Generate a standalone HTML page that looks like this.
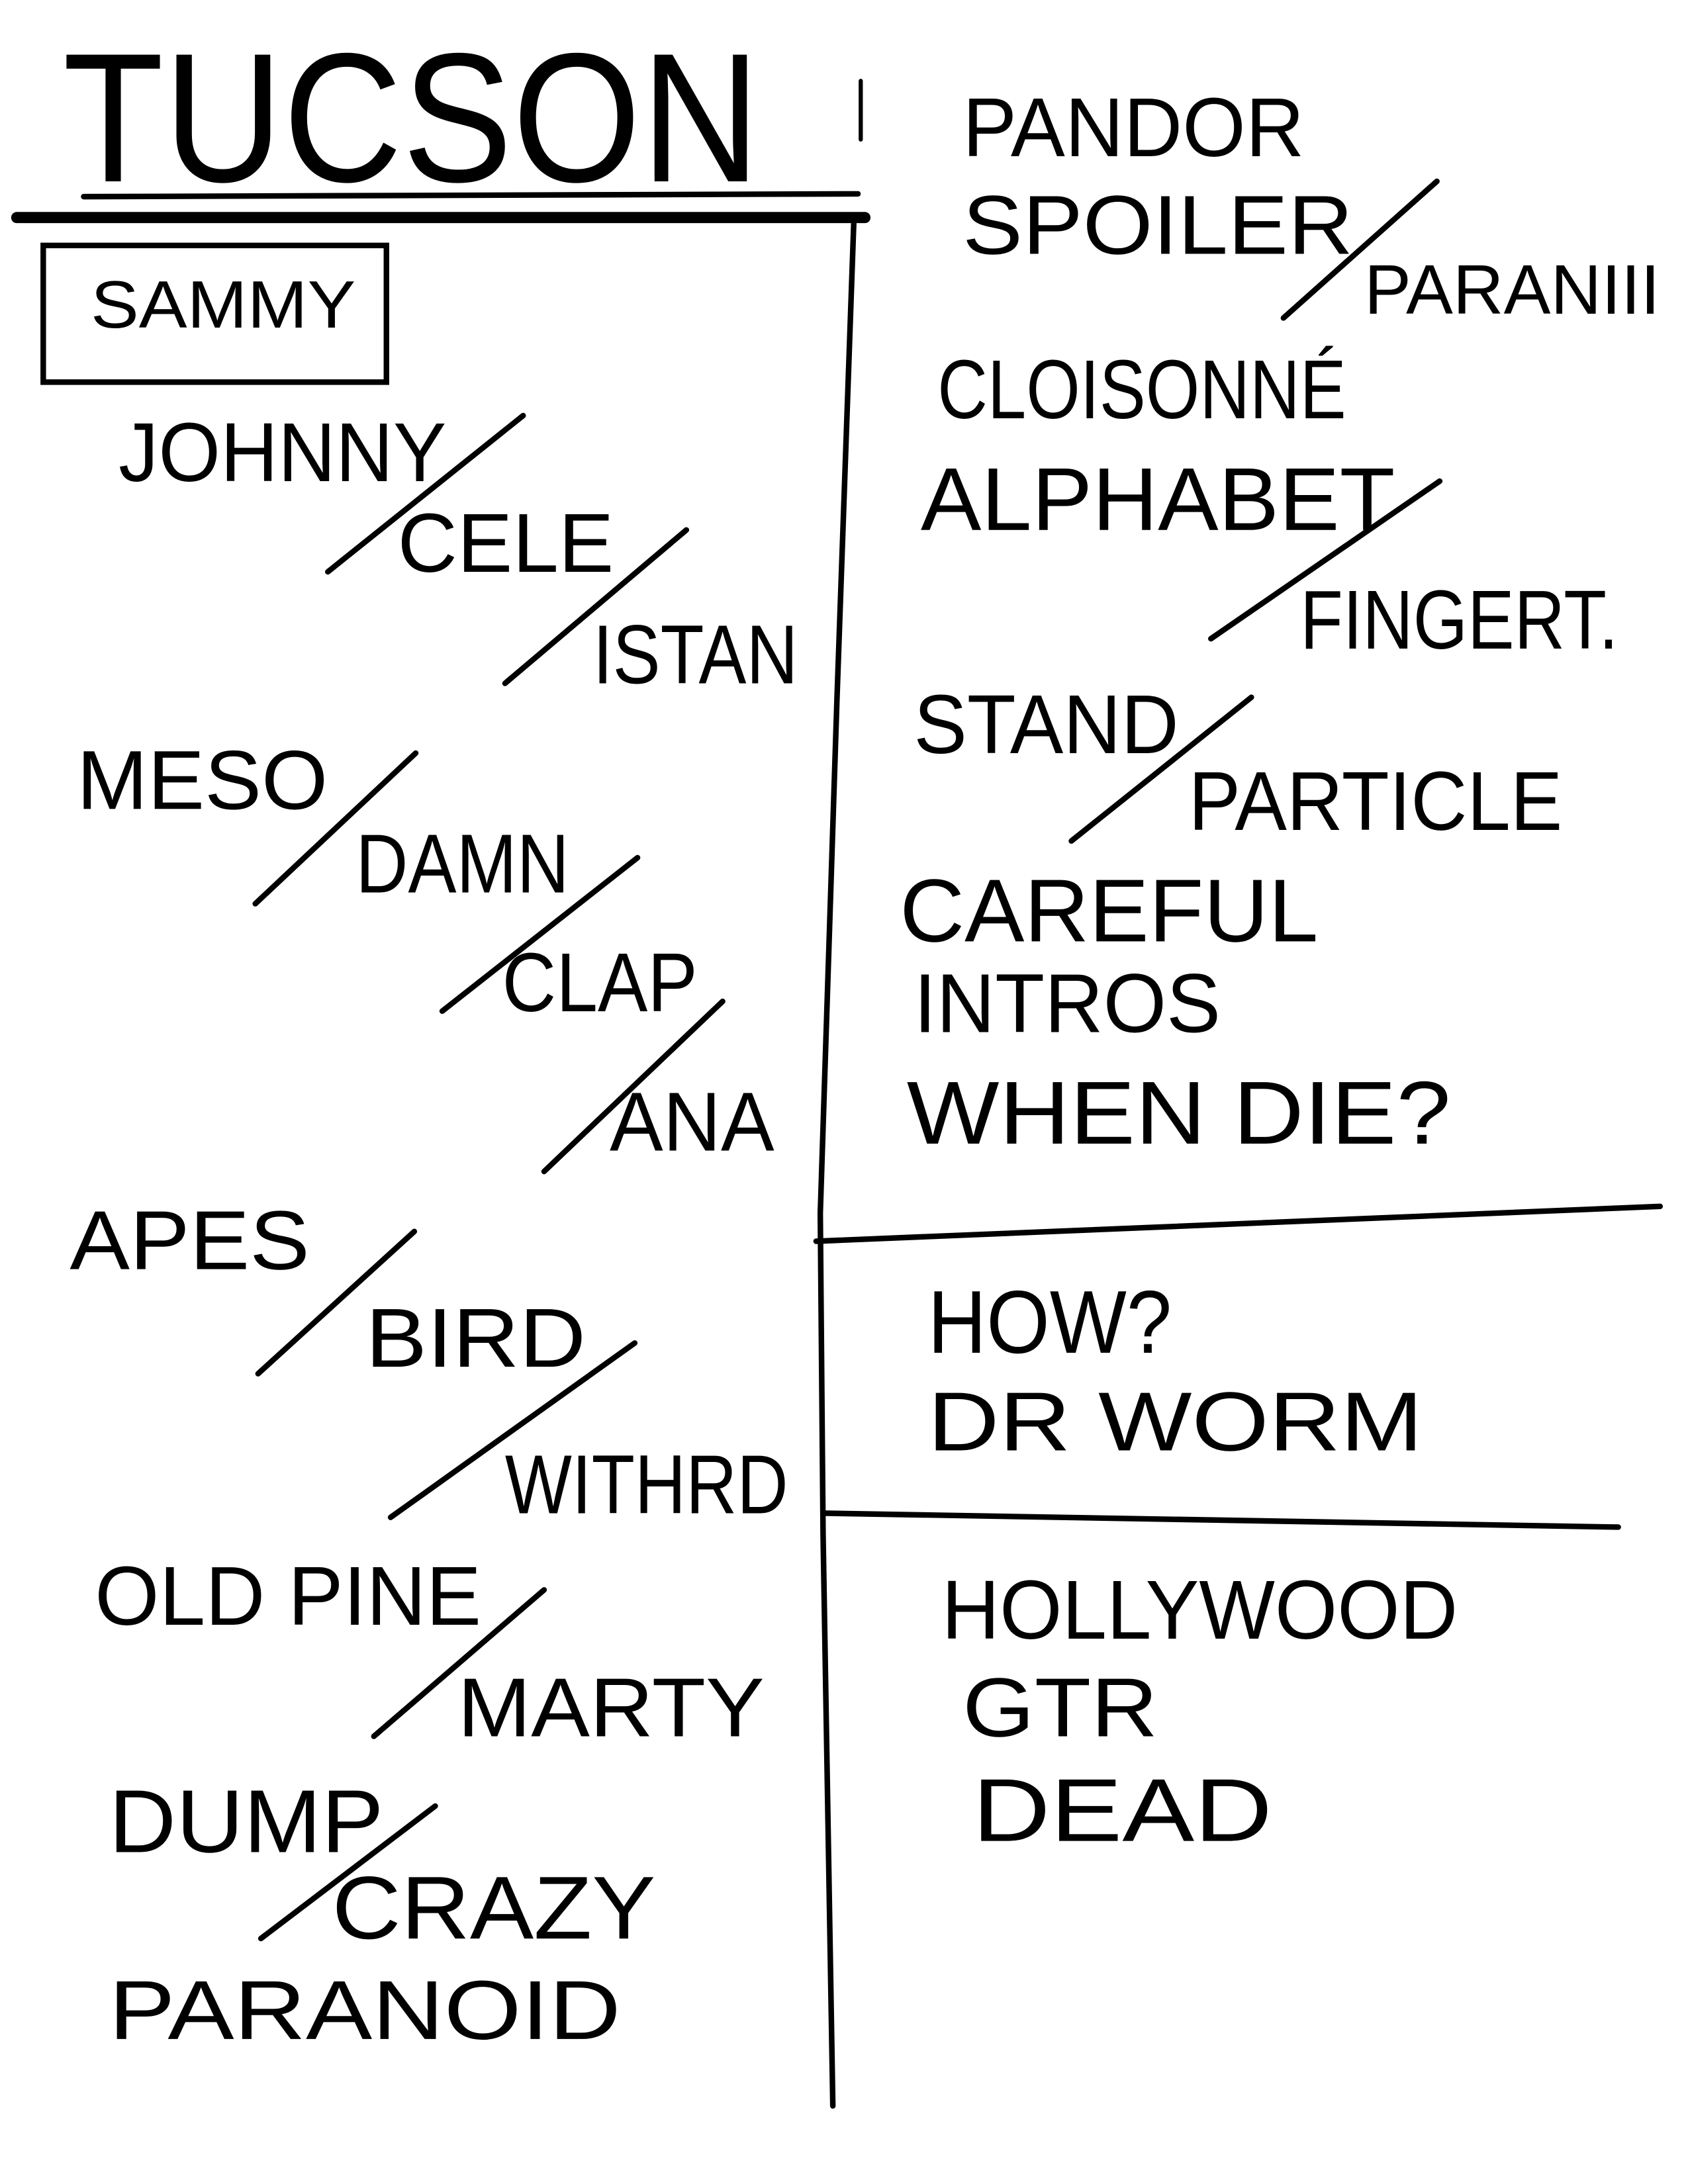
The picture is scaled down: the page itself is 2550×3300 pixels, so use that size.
<!DOCTYPE html>
<html><head><meta charset="utf-8"><style>
html,body{margin:0;padding:0;background:#fff;}
svg{display:block;}
text{font-family:"Liberation Sans",sans-serif;fill:#000;}
.l{stroke:#000;fill:none;stroke-linecap:round;}
</style></head><body>
<svg width="2550" height="3300" viewBox="0 0 1210 1566" preserveAspectRatio="none" xmlns="http://www.w3.org/2000/svg">
<rect width="1210" height="1566" fill="#fff"/>
<text x="45" y="130" font-size="132" textLength="500" lengthAdjust="spacingAndGlyphs">TUCSON</text>
<line class="l" x1="60" y1="141" x2="615" y2="139" stroke-width="4"/>
<line class="l" x1="12" y1="156" x2="620" y2="156" stroke-width="8"/>
<line class="l" x1="617" y1="58" x2="617" y2="100" stroke-width="3"/>
<polyline class="l" points="612,160 600,500 588,870 590,1100 597,1510" stroke-width="4"/>
<line class="l" x1="585" y1="890" x2="1190" y2="865" stroke-width="4"/>
<line class="l" x1="590" y1="1085" x2="1160" y2="1095" stroke-width="4"/>
<rect x="31" y="176" width="246" height="98" class="l" stroke-width="4"/>
<g class="l" stroke-width="4">
<line x1="235" y1="410" x2="375" y2="298"/>
<line x1="362" y1="490" x2="492" y2="380"/>
<line x1="183" y1="648" x2="298" y2="540"/>
<line x1="317" y1="725" x2="457" y2="615"/>
<line x1="390" y1="840" x2="518" y2="718"/>
<line x1="185" y1="985" x2="297" y2="883"/>
<line x1="280" y1="1088" x2="455" y2="963"/>
<line x1="268" y1="1245" x2="390" y2="1140"/>
<line x1="187" y1="1390" x2="312" y2="1295"/>
<line x1="920" y1="228" x2="1030" y2="130"/>
<line x1="868" y1="458" x2="1032" y2="345"/>
<line x1="768" y1="603" x2="897" y2="500"/>
</g>
<text x="65" y="235" font-size="48" textLength="190" lengthAdjust="spacingAndGlyphs">SAMMY</text>
<text x="85" y="345" font-size="60" textLength="235" lengthAdjust="spacingAndGlyphs">JOHNNY</text>
<text x="285" y="410" font-size="60" textLength="155" lengthAdjust="spacingAndGlyphs">CELE</text>
<text x="425" y="490" font-size="60" textLength="147" lengthAdjust="spacingAndGlyphs">ISTAN</text>
<text x="55" y="580" font-size="60" textLength="180" lengthAdjust="spacingAndGlyphs">MESO</text>
<text x="255" y="640" font-size="60" textLength="153" lengthAdjust="spacingAndGlyphs">DAMN</text>
<text x="360" y="725" font-size="60" textLength="140" lengthAdjust="spacingAndGlyphs">CLAP</text>
<text x="437" y="825" font-size="60" textLength="118" lengthAdjust="spacingAndGlyphs">ANA</text>
<text x="50" y="910" font-size="60" textLength="172" lengthAdjust="spacingAndGlyphs">APES</text>
<text x="262" y="980" font-size="60" textLength="158" lengthAdjust="spacingAndGlyphs">BIRD</text>
<text x="362" y="1085" font-size="60" textLength="203" lengthAdjust="spacingAndGlyphs">WITHRD</text>
<text x="68" y="1165" font-size="60" textLength="277" lengthAdjust="spacingAndGlyphs">OLD PINE</text>
<text x="328" y="1245" font-size="60" textLength="220" lengthAdjust="spacingAndGlyphs">MARTY</text>
<text x="78" y="1328" font-size="64" textLength="197" lengthAdjust="spacingAndGlyphs">DUMP</text>
<text x="238" y="1390" font-size="64" textLength="232" lengthAdjust="spacingAndGlyphs">CRAZY</text>
<text x="78" y="1462" font-size="60" textLength="367" lengthAdjust="spacingAndGlyphs">PARANOID</text>
<text x="690" y="112" font-size="60" textLength="245" lengthAdjust="spacingAndGlyphs">PANDOR</text>
<text x="690" y="182" font-size="60" textLength="280" lengthAdjust="spacingAndGlyphs">SPOILER</text>
<text x="978" y="225" font-size="50" textLength="212" lengthAdjust="spacingAndGlyphs">PARANIII</text>
<text x="672" y="300" font-size="60" textLength="293" lengthAdjust="spacingAndGlyphs">CLOISONNÉ</text>
<text x="660" y="380" font-size="64" textLength="340" lengthAdjust="spacingAndGlyphs">ALPHABET</text>
<text x="932" y="465" font-size="60" textLength="228" lengthAdjust="spacingAndGlyphs">FINGERT.</text>
<text x="655" y="540" font-size="60" textLength="190" lengthAdjust="spacingAndGlyphs">STAND</text>
<text x="852" y="595" font-size="60" textLength="268" lengthAdjust="spacingAndGlyphs">PARTICLE</text>
<text x="645" y="675" font-size="64" textLength="300" lengthAdjust="spacingAndGlyphs">CAREFUL</text>
<text x="655" y="740" font-size="60" textLength="220" lengthAdjust="spacingAndGlyphs">INTROS</text>
<text x="650" y="820" font-size="64" textLength="390" lengthAdjust="spacingAndGlyphs">WHEN DIE?</text>
<text x="665" y="970" font-size="64" textLength="175" lengthAdjust="spacingAndGlyphs">HOW?</text>
<text x="665" y="1040" font-size="60" textLength="355" lengthAdjust="spacingAndGlyphs">DR WORM</text>
<text x="675" y="1175" font-size="60" textLength="370" lengthAdjust="spacingAndGlyphs">HOLLYWOOD</text>
<text x="690" y="1245" font-size="60" textLength="140" lengthAdjust="spacingAndGlyphs">GTR</text>
<text x="697" y="1320" font-size="64" textLength="215" lengthAdjust="spacingAndGlyphs">DEAD</text>
</svg>
</body></html>
